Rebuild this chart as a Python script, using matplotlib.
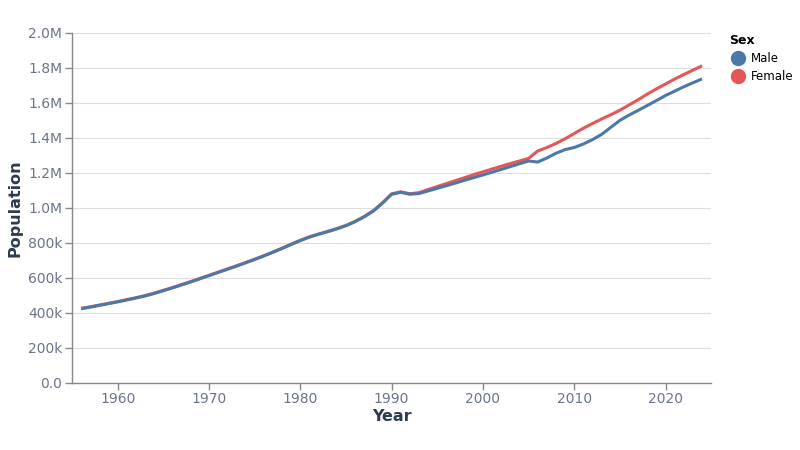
import matplotlib
matplotlib.use("Agg")
import matplotlib.pyplot as plt
from matplotlib.lines import Line2D

years = list(range(1956, 2025))

male = [424, 433, 443, 453, 463, 474, 485, 497, 511, 527, 543, 560, 577, 595, 613,
        631, 649, 667, 686, 705, 725, 746, 768, 791, 813, 833, 849, 864, 880, 898,
        921, 949, 982, 1027, 1078, 1089, 1078, 1082, 1097, 1112, 1127, 1142, 1158,
        1173, 1188, 1204, 1220, 1236, 1252, 1268, 1262, 1285, 1312, 1333, 1345,
        1365, 1390, 1420, 1460, 1500, 1530, 1557, 1585, 1613, 1642, 1667, 1692,
        1715, 1737]

female = [426, 435, 445, 455, 465, 476, 487, 499, 513, 529, 545, 562, 579, 597, 615,
          633, 651, 669, 688, 707, 727, 748, 770, 793, 815, 835, 851, 866, 882, 900,
          923, 951, 984, 1029, 1080, 1092, 1081, 1087, 1105, 1122, 1139, 1156, 1173,
          1190, 1206, 1222, 1238, 1253, 1268, 1283, 1325, 1345, 1368, 1395, 1425,
          1455, 1482, 1508, 1532, 1558, 1588, 1618, 1650, 1680, 1708, 1736, 1762,
          1787, 1812]

y_ticks = [0, 200000, 400000, 600000, 800000, 1000000, 1200000, 1400000,
           1600000, 1800000, 2000000]
y_tick_labels = ["0.0", "200k", "400k", "600k", "800k", "1.0M", "1.2M", "1.4M",
                 "1.6M", "1.8M", "2.0M"]
x_ticks = [1960, 1970, 1980, 1990, 2000, 2010, 2020]
series_names = ["Male", "Female"]
colors = {"Male": "#4c78a8", "Female": "#e45756"}

plt.rcParams['font.family'] = ['DejaVu Sans']

fig = plt.figure(figsize=(8, 4.5), dpi=100)
ax = fig.add_axes([0.09, 0.149, 0.799, 0.778])

ax.plot(years, [v * 1000 for v in female], color=colors["Female"], lw=2.2,
        solid_capstyle='butt', zorder=3)
ax.plot(years, [v * 1000 for v in male], color=colors["Male"], lw=2.2,
        solid_capstyle='butt', zorder=4)

ax.set_xlim(1955, 2025)
ax.set_ylim(0, 2000000)
ax.set_yticks(y_ticks)
ax.set_yticklabels(y_tick_labels)
ax.set_xticks(x_ticks)
ax.set_xticklabels([str(x) for x in x_ticks])

ax.grid(axis='y', color='#dddddd', lw=0.8)
ax.set_axisbelow(True)
for s in ['top', 'right']:
    ax.spines[s].set_visible(False)
for s in ['left', 'bottom']:
    ax.spines[s].set_color('#888888')
    ax.spines[s].set_linewidth(1.0)

label_color = '#6b7488'
ax.tick_params(axis='both', colors='#888888', labelcolor=label_color,
               labelsize=10, length=5, width=1)
ax.tick_params(axis='y', pad=2)
ax.tick_params(axis='x', pad=1.5)

title_color = '#2e3a4d'
ax.set_xlabel("Year", fontsize=11.5, fontweight='bold', color=title_color, labelpad=2)
ax.set_ylabel("Population", fontsize=11.5, fontweight='bold', color=title_color, labelpad=4)

handles = [Line2D([0], [0], marker='o', color='none', markerfacecolor=colors[n],
                  markeredgecolor=colors[n], markersize=10) for n in series_names]
leg = fig.legend(handles, series_names, title="Sex", loc='upper left',
                 bbox_to_anchor=(0.906, 0.936), frameon=False, fontsize=8.5,
                 title_fontsize=9, handletextpad=0.3, labelspacing=0.45,
                 borderaxespad=0, handlelength=1.5)
leg.get_title().set_fontweight('bold')
leg._legend_box.align = "left"

fig.savefig("out.png", dpi=100)
